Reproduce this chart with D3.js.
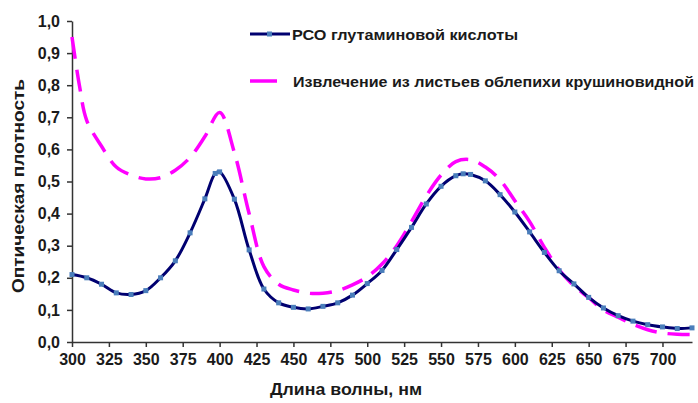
<!DOCTYPE html>
<html>
<head>
<meta charset="utf-8">
<script src="https://cdn.jsdelivr.net/npm/d3@7"></script>
<style>
  body { margin: 0; background: #fff; }
  svg { display: block; }
  text { font-family: "Liberation Sans", Arial, sans-serif; font-weight: bold; fill: #1a1a1a; }
</style>
</head>
<body>
<svg id="chart" width="698" height="403"></svg>
<script>
// wavelength (nm)
const wavelengths = [300, 310, 320, 330, 340, 350, 360, 370, 380, 390, 397, 400, 410, 420, 430, 440, 450, 460, 470, 480, 490, 500, 510, 520, 530, 540, 550, 560, 565, 570, 580, 590, 600, 610, 620, 630, 640, 650, 660, 670, 680, 690, 700, 710, 720]
// РСО глутаминовой кислоты
const rsoValues = [0.21, 0.20, 0.18, 0.153, 0.148, 0.16, 0.20, 0.253, 0.34, 0.446, 0.525, 0.53, 0.445, 0.287, 0.165, 0.122, 0.108, 0.103, 0.111, 0.122, 0.146, 0.182, 0.223, 0.288, 0.357, 0.43, 0.485, 0.518, 0.524, 0.522, 0.502, 0.459, 0.405, 0.343, 0.279, 0.222, 0.181, 0.139, 0.106, 0.082, 0.065, 0.054, 0.047, 0.042, 0.044]

// extract, no markers
const extWavelengths = [300, 305, 310, 320, 330, 340, 350, 360, 370, 380, 390, 400, 410, 420, 430, 440, 450, 460, 470, 480, 490, 500, 510, 520, 530, 540, 550, 560, 570, 580, 590, 600, 610, 620, 630, 640, 650, 660, 670, 680, 690, 700, 710, 720]
const extValues = [0.95, 0.80, 0.69, 0.61, 0.545, 0.52, 0.508, 0.512, 0.535, 0.575, 0.64, 0.715, 0.59, 0.40, 0.235, 0.18, 0.162, 0.152, 0.152, 0.16, 0.178, 0.203, 0.243, 0.30, 0.375, 0.455, 0.52, 0.562, 0.568, 0.545, 0.505, 0.44, 0.375, 0.295, 0.225, 0.175, 0.138, 0.10, 0.077, 0.055, 0.038, 0.028, 0.024, 0.023]

const xTicks = d3.range(300, 701, 25)
const yTicks = d3.range(0, 1.01, 0.1)
const legendLabels = ['РСО глутаминовой кислоты', 'Извлечение из листьев облепихи крушиновидной']

const svg = d3.select('#chart')

const x = d3.scaleLinear().domain([300, 720]).range([72, 692])
const y = d3.scaleLinear().domain([0, 1]).range([342, 21])
const fmt = d => d3.format('.1f')(d).replace('.', ',')

// axes
const xAxis = d3.axisBottom(x).tickValues(xTicks).tickSize(5).tickSizeOuter(0).tickPadding(7)
const yAxis = d3.axisLeft(y).tickValues(yTicks).tickSize(5).tickSizeOuter(0).tickPadding(7).tickFormat(fmt)

const gx = svg.append('g').attr('transform', 'translate(0,342)').call(xAxis)
const gy = svg.append('g').attr('transform', 'translate(72,0)').call(yAxis)

;[gx, gy].forEach(g => {
  g.select('.domain').attr('stroke', '#333').attr('stroke-width', 1.5)
  g.selectAll('.tick line').attr('stroke', '#333').attr('stroke-width', 1.5)
  g.selectAll('.tick text')
    .style('font-family', '"Liberation Sans", Arial, sans-serif')
    .style('font-weight', 'bold')
    .style('font-size', '16px')
    .attr('fill', '#1a1a1a')
})

// lines
const line = d3.line()
  .x(d => x(d[0]))
  .y(d => y(d[1]))
  .curve(d3.curveCatmullRom.alpha(0.5))

const rso = wavelengths.map((w, i) => [w, rsoValues[i]])
const ext = extWavelengths.map((w, i) => [w, extValues[i]])

svg.append('path')
  .datum(ext)
  .attr('d', line)
  .attr('fill', 'none')
  .attr('stroke', '#ff00ff')
  .attr('stroke-width', 3.5)
  .attr('stroke-dasharray', '22,11')

svg.append('path')
  .datum(rso)
  .attr('d', line)
  .attr('fill', 'none')
  .attr('stroke', '#000070')
  .attr('stroke-width', 3)

svg.append('g')
  .selectAll('rect')
  .data(rso)
  .enter()
  .append('rect')
  .attr('x', d => x(d[0]) - 2.5)
  .attr('y', d => y(d[1]) - 2.5)
  .attr('width', 5)
  .attr('height', 5)
  .attr('fill', '#4a7ebb')

// axis titles
svg.append('text')
  .attr('x', 346)
  .attr('y', 395)
  .attr('text-anchor', 'middle')
  .style('font-size', '16px')
  .attr('textLength', 152)
  .attr('lengthAdjust', 'spacingAndGlyphs')
  .text('Длина волны, нм')

svg.append('text')
  .attr('transform', 'translate(24,186) rotate(-90)')
  .attr('text-anchor', 'middle')
  .style('font-size', '16px')
  .attr('textLength', 214)
  .attr('lengthAdjust', 'spacingAndGlyphs')
  .text('Оптическая плотность')

// legend
const lg = svg.append('g')
lg.append('line').attr('x1', 250).attr('x2', 290).attr('y1', 34).attr('y2', 34)
  .attr('stroke', '#000070').attr('stroke-width', 3)
lg.append('rect').attr('x', 267).attr('y', 31.5).attr('width', 5).attr('height', 5).attr('fill', '#4a7ebb')
lg.append('text').attr('x', 292).attr('y', 40).style('font-size', '15px')
  .attr('textLength', 226).attr('lengthAdjust', 'spacingAndGlyphs')
  .text(legendLabels[0])

lg.append('line').attr('x1', 250).attr('x2', 277).attr('y1', 81).attr('y2', 81)
  .attr('stroke', '#ff00ff').attr('stroke-width', 3.5)
lg.append('text').attr('x', 293).attr('y', 87).style('font-size', '15px')
  .attr('textLength', 401).attr('lengthAdjust', 'spacingAndGlyphs')
  .text(legendLabels[1])
</script>
</body>
</html>
